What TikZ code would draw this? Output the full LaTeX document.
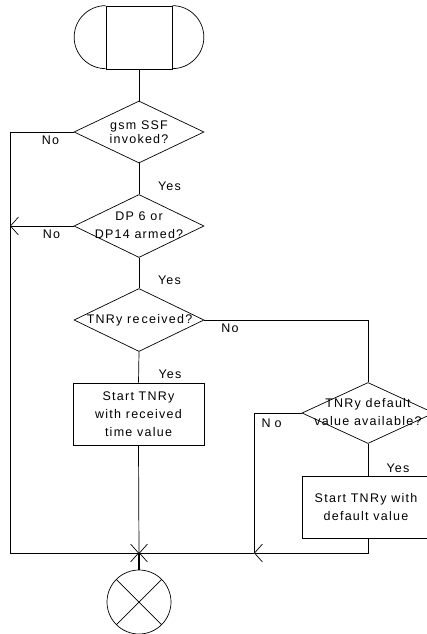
\documentclass[tikz,border=0pt]{standalone}
\usepackage{fontspec}
\setmainfont{Liberation Sans}[LetterSpace=10]
\usetikzlibrary{shapes.geometric,arrows.meta}
\tikzset{
  ln/.style={line width=0.7pt},
  dia/.style={draw,ln,diamond,inner sep=0pt,minimum width=130pt,minimum height=62pt},
  boxn/.style={draw,ln,rectangle,inner sep=0pt,minimum width=131pt,minimum height=62pt},
  txt/.style={align=center,inner sep=0pt,font=\fontsize{12.5}{18}\selectfont},
  lbl/.style={anchor=base,inner sep=0pt,font=\fontsize{12.5}{15}\selectfont},
  barb/.style={-{Straight Barb[length=8pt,width=18pt,line width=0.7pt]}},
}
\begin{document}
\begin{tikzpicture}[x=1pt,y=1pt]
\useasboundingbox (0,0) rectangle (427,-634);
\clip (0,0) rectangle (427,-634);
% terminator
\node[draw,ln,rectangle,inner sep=0pt,minimum width=66pt,minimum height=63pt] (term) at (139,-37.5) {};
\draw[ln] (term.north west) arc[start angle=90,end angle=270,radius=31.5pt];
\draw[ln] (term.north east) arc[start angle=90,end angle=-90,radius=31.5pt];
% decisions
\node[dia] (d1) at (139,-132) {};
\node[txt,font=\fontsize{12.5}{14}\selectfont] (t1) at (139,-132) {gsm SSF\\invoked?};
\node[dia,minimum height=63pt] (d2) at (139,-226) {};
\node[txt] (t2) at (139,-225) {DP 6 or\\DP14 armed?};
\node[dia,minimum height=63pt] (d3) at (139,-320) {};
\node[txt] (t3) at (139.5,-320) {TNRy re\,ceived?};
\node[dia,minimum width=132pt,minimum height=61pt] (d4) at (368,-413) {};
\node[txt] (t4) at (368,-412) {TNRy default\\value available?};
% boxes
\node[boxn] (b1) at (138.5,-414) {};
\node[txt] (tb1) at (138.5,-414) {Start TNRy\\with received\\time value};
\node[boxn,minimum width=132pt] (b2) at (368,-507) {};
\node[txt] (tb2) at (366,-507) {Start TNRy with\\default value};
% exit
\node[draw,ln,circle,inner sep=0pt,minimum size=64pt] (end) at (139,-602) {};
\draw[ln] (end.north west) -- (end.south east);
\draw[ln] (end.north east) -- (end.south west);
% coordinates
\coordinate (J) at (139,-553);
\coordinate (c1) at (10,-553);
\coordinate (c4) at (254,-553);
\coordinate (r3) at (368,-320);
% connectors
\draw[ln] (term.south) -- (d1.north);
\draw[ln] (d1.south) -- (d2.north);
\draw[ln] (d2.south) -- (d3.north);
\draw[ln] (d3.south) -- (b1.north);
\draw[ln] (b1.south) -- (J);
\draw[line width=1.2pt] (J) -- (end.north);
\draw[ln] (d1.west) -| (c1);
\draw[ln,barb] (c1) -- (J);
\draw[ln,barb] (d2.west) -- (d2.west -| c1);
\draw[ln] (d3.east) -- (r3) -- (d4.north);
\draw[ln] (d4.south) -- (b2.north);
\draw[ln] (d4.west) -| (c4);
\draw[ln,barb] (c4) -- (J);
\draw[ln,barb] (b2.south) |- (c4);
% labels
\node[lbl] (n1) at (50.5,-144) {No};
\node[lbl] (y1) at (169.5,-190.7) {Yes};
\node[lbl] (n2) at (51.5,-238) {No};
\node[lbl] (y2) at (169.5,-284) {Yes};
\node[lbl] (n3) at (230,-332) {No};
\node[lbl] (y3) at (170,-378.3) {Yes};
\node[lbl] (n4) at (271.5,-427) {N\hspace{4pt}o};
\node[lbl] (y4) at (398,-472) {Yes};
\end{tikzpicture}
\end{document}
